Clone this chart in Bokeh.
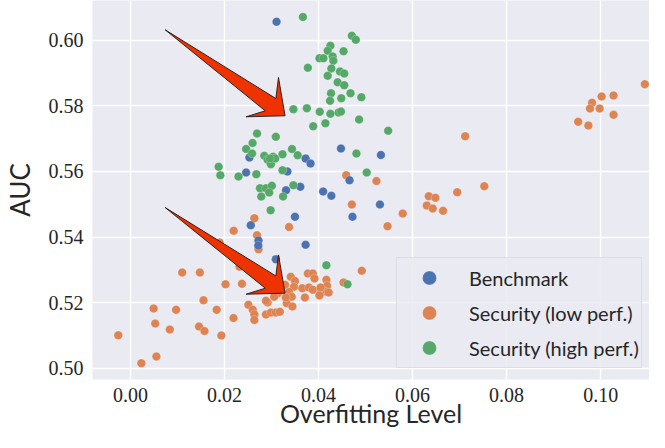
from bokeh.plotting import figure
from bokeh.models import Range1d, FixedTicker, PrintfTickFormatter, Legend, LegendItem
from bokeh.embed import file_html
from bokeh.resources import INLINE

# ---------------- data ----------------
bench_x = [0.03107, 0.02530, 0.02460, 0.03339, 0.03725, 0.03830, 0.04477, 0.03613,
           0.03309, 0.04098, 0.04273, 0.04659, 0.04722, 0.03499, 0.02559, 0.02723,
           0.02719, 0.03725, 0.05327, 0.05306, 0.03092]
bench_y = [0.60561, 0.56424, 0.55966, 0.55997, 0.56393, 0.56241, 0.56698, 0.55530,
           0.55427, 0.55387, 0.55256, 0.55732, 0.54616, 0.54616, 0.54360, 0.53893,
           0.53741, 0.53762, 0.56500, 0.54991, 0.53323]

low_x = [0.10940, 0.10021, 0.10274, 0.09817, 0.09774, 0.09979, 0.10274, 0.09522,
         0.09739, 0.07119, 0.07525, 0.06950, 0.06345, 0.06486, 0.06303, 0.06429,
         0.06648, 0.05791, 0.05468, 0.05232, 0.04589, 0.04709, 0.03373, 0.02635,
         0.02196, 0.02692, 0.02723, 0.01897, 0.04920, 0.01476, 0.01100, 0.02022,
         0.02371, 0.02319, 0.01554, 0.01834, 0.02192, 0.01459, 0.01575, 0.01933,
         0.00493, 0.00970, 0.00527, 0.00837, -0.00259, 0.00552, 0.00232,
         0.03773, 0.03879, 0.03914, 0.04167, 0.04182, 0.04532, 0.03409, 0.03499,
         0.03478, 0.03655, 0.03794, 0.03879, 0.04041, 0.04161, 0.03373, 0.03430,
         0.03324, 0.03444, 0.03710, 0.03128, 0.03057, 0.02917, 0.02882, 0.03303,
         0.02508, 0.02601, 0.02635, 0.02635, 0.02882, 0.02987, 0.03092, 0.03177,
         0.03288, 0.04041, 0.04216, 0.04020]
low_y = [0.58659, 0.58284, 0.58314, 0.58091, 0.57918, 0.57918, 0.57726, 0.57512,
         0.57399, 0.57073, 0.55549, 0.55366, 0.55244, 0.55195, 0.54960, 0.54869,
         0.54799, 0.54716, 0.54329, 0.55707, 0.55884, 0.54991, 0.54305, 0.54573,
         0.54189, 0.54055, 0.53628, 0.53832, 0.52970, 0.52918, 0.52918, 0.52561,
         0.52573, 0.53091, 0.52073, 0.51780, 0.51530, 0.51271, 0.51134, 0.50997,
         0.51820, 0.51780, 0.51363, 0.51180, 0.51006, 0.50357, 0.50152,
         0.52887, 0.52887, 0.52735, 0.52695, 0.52512, 0.52613, 0.52787, 0.52659,
         0.52482, 0.52439, 0.52460, 0.52390, 0.52287, 0.52329, 0.52329, 0.52177,
         0.51982, 0.51881, 0.52155, 0.52277, 0.52177, 0.52003, 0.52054, 0.52155,
         0.51933, 0.51784, 0.51640, 0.51470, 0.51640, 0.51698, 0.51698, 0.51720,
         0.52546, 0.52460, 0.52308, 0.52220]

high_x = [0.03668, 0.04709, 0.04793, 0.04252, 0.04195, 0.04532, 0.04020, 0.04104,
          0.04300, 0.04315, 0.03773, 0.04273, 0.04456, 0.04547, 0.04195, 0.04406,
          0.04547, 0.04266, 0.04680, 0.04911, 0.04484, 0.04245, 0.03465, 0.03752,
          0.04026, 0.04252, 0.04427, 0.04477, 0.04863, 0.03887, 0.04146, 0.02692,
          0.03092, 0.02597, 0.02460, 0.02586, 0.03436, 0.03556, 0.03234, 0.02846,
          0.02917, 0.02987, 0.03035, 0.03078, 0.02966, 0.01876, 0.01912, 0.02298,
          0.02677, 0.03234, 0.04806, 0.05025, 0.02755, 0.02882, 0.03008, 0.02951,
          0.02782, 0.03246, 0.03465, 0.02981, 0.04167, 0.04616, 0.05481]
high_y = [0.60707, 0.60134, 0.60012, 0.59829, 0.59677, 0.59665, 0.59451, 0.59451,
          0.59503, 0.59372, 0.59159, 0.59137, 0.59046, 0.58985, 0.58915, 0.58720,
          0.58628, 0.58384, 0.58384, 0.58262, 0.58232, 0.58152, 0.57896, 0.57927,
          0.57817, 0.57756, 0.57796, 0.57826, 0.57582, 0.57378, 0.57470, 0.57155,
          0.57055, 0.56866, 0.56683, 0.56546, 0.56683, 0.56494, 0.56524, 0.56476,
          0.56354, 0.56220, 0.56445, 0.56393, 0.56393, 0.56140, 0.55884, 0.55845,
          0.55915, 0.56037, 0.56546, 0.55966, 0.55488, 0.55488, 0.55561, 0.55357,
          0.55235, 0.55235, 0.55579, 0.54817, 0.53140, 0.52561, 0.57238]

series_names = ["Benchmark", "Security (low perf.)", "Security (high perf.)"]
series_colors = ["#4C72B0", "#DD8452", "#55A868"]

x_ticks = [0.00, 0.02, 0.04, 0.06, 0.08, 0.10]
y_ticks = [0.50, 0.52, 0.54, 0.56, 0.58, 0.60]
x_title = "Overfitting Level"
y_title = "AUC"

# annotation arrows (tail -> tip, data units)
arrow_tails = [(0.00738, 0.60317), (0.00738, 0.54899)]
arrow_tips = [(0.03288, 0.57695), (0.03288, 0.52287)]

# ---------------- figure ----------------
W, H = 649, 432
ML, MB = 87, 53
x0, x1 = -0.00807, 0.11039
y0, y1 = 0.49656, 0.61210

p = figure(width=W, height=H, output_backend="svg", toolbar_location=None,
           x_range=Range1d(x0, x1), y_range=Range1d(y0, y1),
           min_border_left=ML, min_border_right=0, min_border_top=0,
           min_border_bottom=MB)
p.background_fill_color = "#EAEAF2"
p.border_fill_color = "white"
p.outline_line_color = None

for g in (p.xgrid, p.ygrid):
    g.grid_line_color = "white"
    g.grid_line_width = 1.4
p.xgrid.ticker = FixedTicker(ticks=x_ticks)
p.ygrid.ticker = FixedTicker(ticks=y_ticks)

p.xaxis.ticker = FixedTicker(ticks=x_ticks)
p.yaxis.ticker = FixedTicker(ticks=y_ticks)
for ax in (p.xaxis[0], p.yaxis[0]):
    ax.formatter = PrintfTickFormatter(format="%.2f")
    ax.axis_line_color = None
    ax.major_tick_line_color = None
    ax.minor_tick_line_color = None
    ax.major_tick_in = 0
    ax.major_tick_out = 0
    ax.major_label_text_font = "Liberation Serif"
    ax.major_label_text_font_size = "20px"
    ax.major_label_text_color = "#262626"
    ax.axis_label_text_font = "Lato"
    ax.axis_label_text_font_size = "26px"
    ax.axis_label_text_font_style = "normal"
    ax.axis_label_text_color = "#262626"
p.xaxis.axis_label = x_title
p.yaxis.axis_label = y_title
p.xaxis.axis_label_text_font_size = "25px"
p.xaxis.major_label_standoff = 8
p.xaxis.axis_label_standoff = -7
p.yaxis.major_label_standoff = 9
p.yaxis.axis_label_standoff = 10

# arrows (head shape given in screen pixels relative to tip)
pxx = (W - ML) / (x1 - x0)
pxy = (H - MB) / (y1 - y0)
head = {"uj": (-9.3, -17.3), "ub": (-6.6, -38.3), "lb": (-39.3, 1.0), "lj": (-20.0, -5.0)}
axs, ays = [], []
for (tx, ty), (hx, hy) in zip(arrow_tails, arrow_tips):
    def pt(o):
        return hx + o[0] / pxx, hy - o[1] / pxy
    pts = [(tx, ty), pt(head["uj"]), pt(head["ub"]), (hx, hy), pt(head["lb"]), pt(head["lj"])]
    axs.append([q[0] for q in pts])
    ays.append([q[1] for q in pts])

# scatter
rend = {}
order = [(1, low_x, low_y), (0, bench_x, bench_y), (2, high_x, high_y)]
for i, xs, ys in order:
    rend[i] = p.scatter(xs, ys, size=8.6, fill_color=series_colors[i], fill_alpha=1.0,
                        line_color="white", line_width=0.4, line_alpha=0.6)

p.patches(axs, ays, fill_color="#EE3300", line_color="#1a1a1a", line_width=0.9)

legend = Legend(items=[LegendItem(label=series_names[i], renderers=[rend[i]]) for i in range(3)],
                location=(304, 11))
legend.glyph_width = 60
legend.glyph_height = 35
legend.label_height = 30
legend.spacing = 0
legend.padding = 2
legend.margin = 0
legend.label_standoff = 10
legend.label_text_font = "Lato"
legend.label_text_font_size = "20px"
legend.label_text_color = "#262626"
legend.background_fill_color = "#EAEAF2"
legend.background_fill_alpha = 0.85
legend.border_line_color = "#CFCFD8"
legend.border_line_width = 1
p.add_layout(legend)

open("out.html", "w").write(file_html(p, INLINE))
